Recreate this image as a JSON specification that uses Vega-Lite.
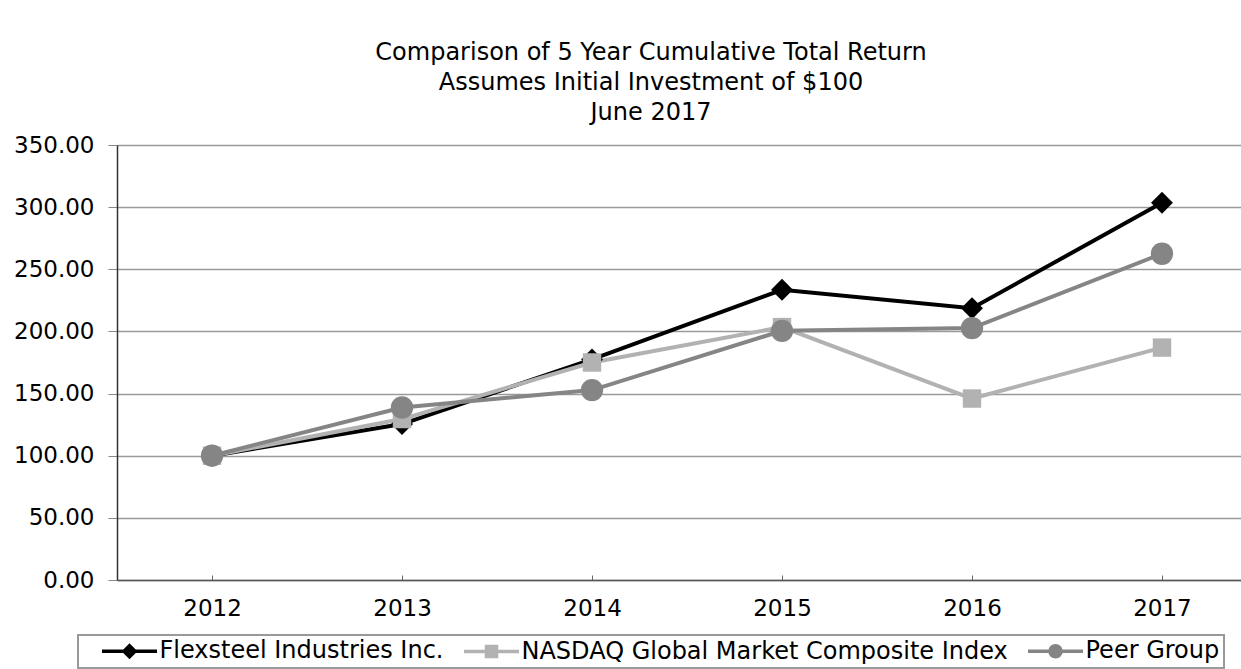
{
  "$schema": "https://vega.github.io/schema/vega-lite/v6.json",
  "width": 1124,
  "height": 435,
  "autosize": {"type": "none"},
  "padding": {"left": 117, "top": 145, "right": 0, "bottom": 89},
  "background": "white",
  "title": {
    "text": ["Comparison of 5 Year Cumulative Total Return", "Assumes Initial Investment of $100", "June 2017"],
    "font": "DejaVu Sans",
    "fontSize": 24,
    "fontWeight": "normal",
    "color": "#000000",
    "lineHeight": 30,
    "anchor": "middle",
    "dx": -28,
    "offset": 9
  },
  "data": {
    "values": [
      {"year": "2012", "series": "Flexsteel Industries Inc.", "value": 100},
      {"year": "2013", "series": "Flexsteel Industries Inc.", "value": 125.5},
      {"year": "2014", "series": "Flexsteel Industries Inc.", "value": 177.5},
      {"year": "2015", "series": "Flexsteel Industries Inc.", "value": 233.5},
      {"year": "2016", "series": "Flexsteel Industries Inc.", "value": 218.7},
      {"year": "2017", "series": "Flexsteel Industries Inc.", "value": 303.5},
      {"year": "2012", "series": "NASDAQ Global Market Composite Index", "value": 100},
      {"year": "2013", "series": "NASDAQ Global Market Composite Index", "value": 129.5},
      {"year": "2014", "series": "NASDAQ Global Market Composite Index", "value": 175},
      {"year": "2015", "series": "NASDAQ Global Market Composite Index", "value": 203.5},
      {"year": "2016", "series": "NASDAQ Global Market Composite Index", "value": 146},
      {"year": "2017", "series": "NASDAQ Global Market Composite Index", "value": 187},
      {"year": "2012", "series": "Peer Group", "value": 100},
      {"year": "2013", "series": "Peer Group", "value": 138.8},
      {"year": "2014", "series": "Peer Group", "value": 152.8},
      {"year": "2015", "series": "Peer Group", "value": 200.5},
      {"year": "2016", "series": "Peer Group", "value": 202.7},
      {"year": "2017", "series": "Peer Group", "value": 262.5}
    ]
  },
  "encoding": {
    "x": {
      "field": "year",
      "type": "ordinal",
      "scale": {"type": "point", "padding": 0.458, "align": 0.546},
      "axis": {
        "title": null,
        "labelAngle": 0,
        "labelFont": "DejaVu Sans",
        "labelFontSize": 23,
        "labelColor": "#000000",
        "tickSize": -5,
        "tickColor": "#666666",
        "domainColor": "#555555",
        "domainWidth": 1.5,
        "labelPadding": 22,
        "grid": false
      }
    },
    "y": {
      "field": "value",
      "type": "quantitative",
      "scale": {"domain": [0, 350], "nice": false},
      "axis": {
        "title": null,
        "values": [0, 50, 100, 150, 200, 250, 300, 350],
        "format": ".2f",
        "labelFont": "DejaVu Sans",
        "labelFontSize": 23,
        "labelColor": "#000000",
        "tickSize": 9,
        "tickColor": "#888888",
        "labelPadding": 14,
        "domainColor": "#333333",
        "domainWidth": 1.5,
        "grid": true,
        "gridColor": "#9a9a9a",
        "gridWidth": 1.5
      }
    },
    "color": {
      "field": "series",
      "type": "nominal",
      "scale": {
        "domain": ["Flexsteel Industries Inc.", "NASDAQ Global Market Composite Index", "Peer Group"],
        "range": ["#000000", "#b2b2b2", "#858585"]
      },
      "legend": {
        "title": null,
        "orient": "none",
        "legendX": -39,
        "legendY": 490,
        "direction": "horizontal",
        "columns": 3,
        "labelFont": "DejaVu Sans",
        "labelFontSize": 24,
        "labelColor": "#000000",
        "labelLimit": 0,
        "symbolSize": 400,
        "symbolStrokeWidth": 3.5,
        "symbolOffset": 35.5,
        "labelOffset": 18,
        "columnPadding": -3,
        "padding": 4,
        "strokeColor": "#999999",
        "fillColor": "white",
        "encode": {
          "legend": {"update": {"strokeWidth": {"value": 2}}},
          "symbols": {
            "update": {
              "shape": {"signal": "datum.value === 'Flexsteel Industries Inc.' ? 'M-2.75,0H2.75M0,-0.55L0.55,0L0,0.55L-0.55,0Z' : datum.value === 'NASDAQ Global Market Composite Index' ? 'M-2.75,0H2.75M-0.5,-0.5H0.5V0.5H-0.5Z' : 'M-2.75,0H2.75M-0.55,0A0.55,0.55,0,1,1,0.55,0A0.55,0.55,0,1,1,-0.55,0Z'"},
              "size": {"value": 400},
              "fill": {"scale": "color", "field": "value"},
              "stroke": {"scale": "color", "field": "value"},
              "strokeWidth": {"value": 3.5},
              "opacity": {"value": 1}
            }
          }
        }
      }
    }
  },
  "layer": [
    {"mark": {"type": "line", "strokeWidth": 4}},
    {
      "transform": [{"filter": "datum.series === 'Flexsteel Industries Inc.'"}],
      "mark": {"type": "point", "filled": true, "opacity": 1, "shape": "diamond", "size": 480}
    },
    {
      "transform": [{"filter": "datum.series === 'NASDAQ Global Market Composite Index'"}],
      "mark": {"type": "point", "filled": true, "opacity": 1, "shape": "square", "size": 340}
    },
    {
      "transform": [{"filter": "datum.series === 'Peer Group'"}],
      "mark": {"type": "point", "filled": true, "opacity": 1, "shape": "circle", "size": 500}
    }
  ],
  "config": {"view": {"stroke": null}, "font": "DejaVu Sans"}
}
